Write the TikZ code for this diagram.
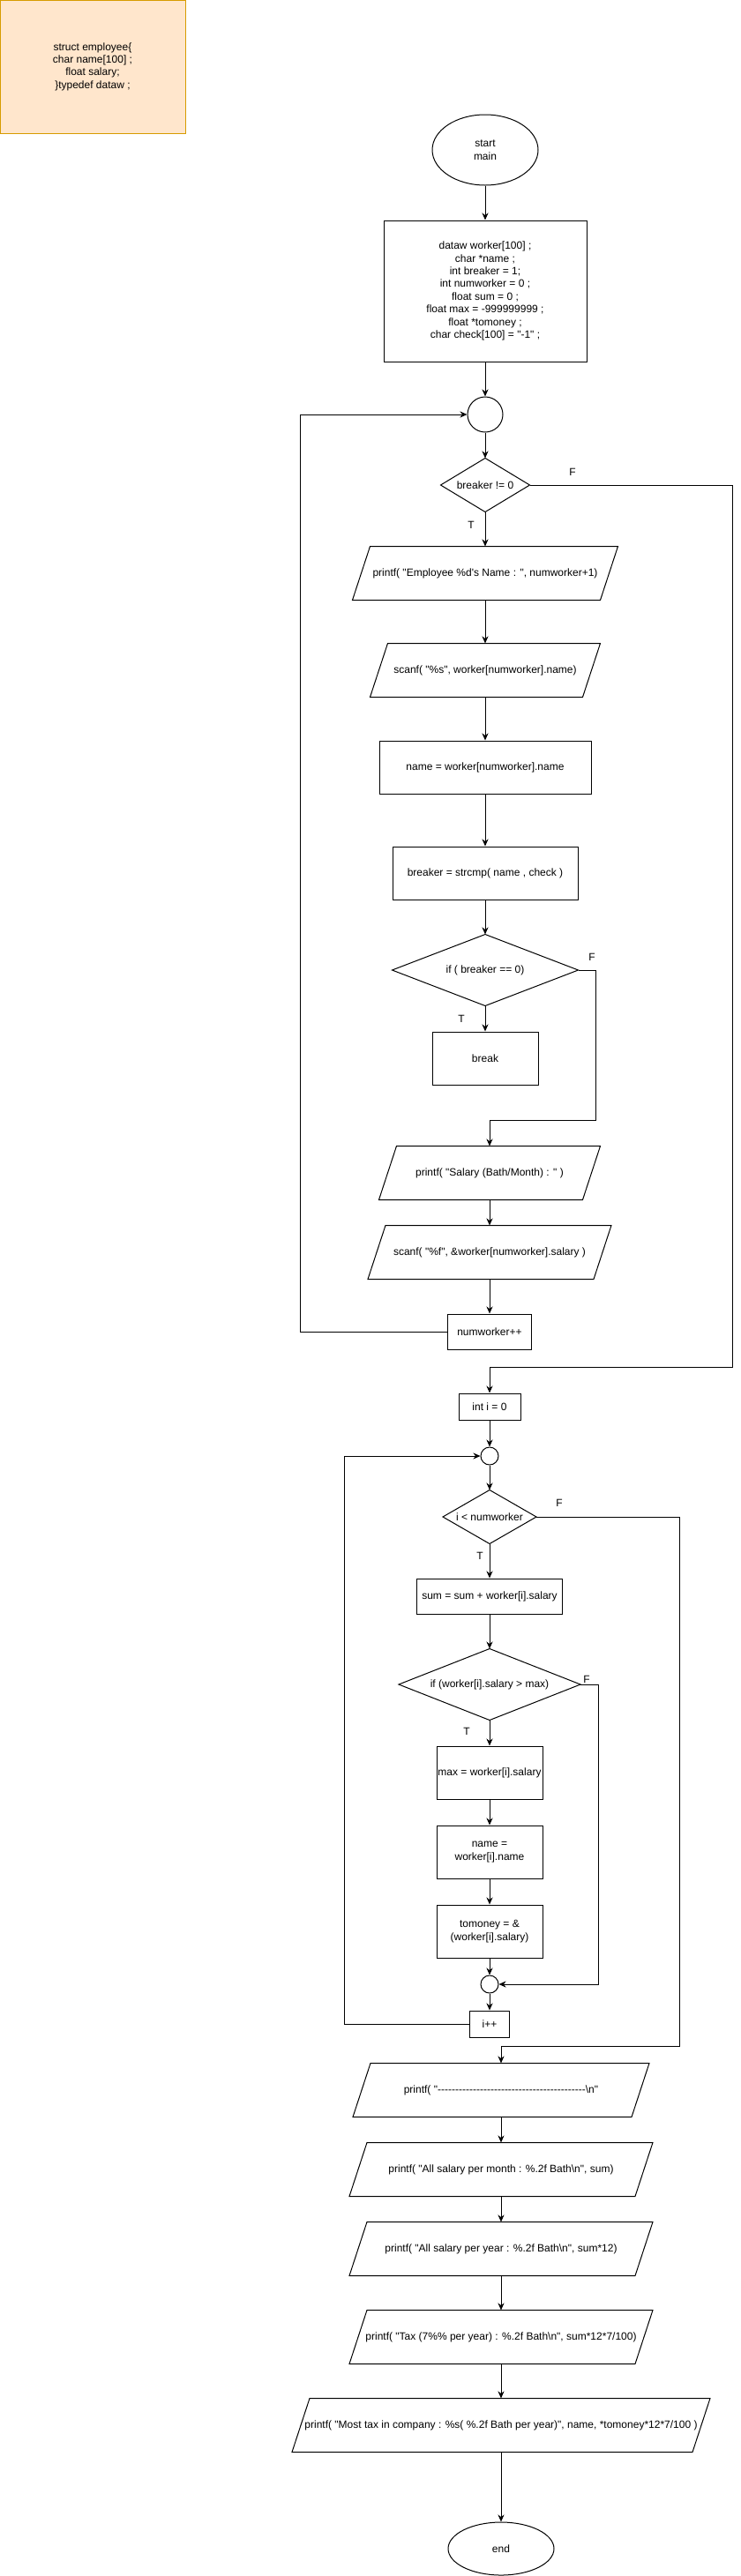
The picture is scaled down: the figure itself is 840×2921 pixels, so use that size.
\documentclass[tikz,border=0pt]{standalone}
\usepackage{fontspec}
\setmainfont{Liberation Sans}[Ligatures=TeXOff]
\usetikzlibrary{shapes.geometric,arrows.meta,calc}
\definecolor{notefill}{HTML}{FFE6CC}
\definecolor{noteline}{HTML}{D79B00}
\tikzset{
  base/.style={font=\fontsize{12}{14.4}\selectfont, inner sep=0pt, align=center, line width=1pt},
  proc/.style={base, draw, rectangle},
  iobox/.style={base, rectangle},
  decbox/.style={base, rectangle},
  conn/.style={base, draw, circle},
  term/.style={base, draw, ellipse},
  note/.style={base, draw=noteline, fill=notefill, rectangle},
  arr/.style={line width=1pt, -{Stealth[length=8pt,width=7pt,inset=2.5pt]}},
  lbl/.style={font=\fontsize{12}{14.4}\selectfont, inner sep=0pt},
}
\newcommand\iopara[1]{\draw[line width=1pt] ([xshift=20pt]#1.north west) -- (#1.north east) -- ([xshift=-20pt]#1.south east) -- (#1.south west) -- cycle;}
\newcommand\decdia[1]{\draw[line width=1pt] (#1.north) -- (#1.east) -- (#1.south) -- (#1.west) -- cycle;}
\begin{document}
\begin{tikzpicture}[x=1pt,y=-1pt]
\useasboundingbox (0,0) rectangle (840,2921);
\fill[white] (0,0) rectangle (840,2921);

\node[note, minimum width=210pt, minimum height=151pt] (st) at (105,75.5) {struct employee\{\\char name[100] ;\\float salary;\\\}typedef dataw ;};

\node[term, minimum width=120pt, minimum height=80pt] (start) at (550,170) {start\\main};
\node[proc, minimum width=230pt, minimum height=160pt] (init) at (550,330) {dataw worker[100] ;\\char *name ;\\int breaker = 1;\\int numworker = 0 ;\\float sum = 0 ;\\float max = -999999999 ;\\float *tomoney ;\\char check[100] = "-1" ;};
\node[conn, minimum size=40pt] (c1) at (550,470) {};
\node[decbox, minimum width=100pt, minimum height=60pt] (d1) at (550,550) {breaker != 0}; \decdia{d1}
\node[iobox, minimum width=300pt, minimum height=60pt] (p1) at (550,650) {printf( "Employee \%d's Name : ", numworker+1)}; \iopara{p1}
\node[iobox, minimum width=260pt, minimum height=60pt] (p2) at (550,760) {scanf( "\%s", worker[numworker].name)}; \iopara{p2}
\node[proc, minimum width=240pt, minimum height=60pt] (r1) at (550,870) {name = worker[numworker].name};
\node[proc, minimum width=210pt, minimum height=60pt] (r2) at (550,990) {breaker = strcmp( name , check )};
\node[decbox, minimum width=210pt, minimum height=80pt] (d2) at (550,1100) {if ( breaker == 0)}; \decdia{d2}
\node[proc, minimum width=120pt, minimum height=60pt] (brk) at (550,1200) {break};
\node[iobox, minimum width=250pt, minimum height=60pt] (p3) at (555,1330) {printf( "Salary (Bath/Month) : " )}; \iopara{p3}
\node[iobox, minimum width=275pt, minimum height=60pt] (p4) at (555,1420) {scanf( "\%f", \&worker[numworker].salary )}; \iopara{p4}
\node[proc, minimum width=95pt, minimum height=40pt] (nw) at (555,1510) {numworker++};

\node[proc, minimum width=70pt, minimum height=30pt] (ii) at (555,1595) {int i = 0};
\node[conn, minimum size=20pt] (c2) at (555,1651) {};
\node[decbox, minimum width=105pt, minimum height=60pt] (d3) at (555,1720) {i < numworker}; \decdia{d3}
\node[proc, minimum width=165pt, minimum height=40pt] (sum) at (555,1810) {sum = sum + worker[i].salary};
\node[decbox, minimum width=205pt, minimum height=80pt] (d4) at (555,1910) {if (worker[i].salary > max)}; \decdia{d4}
\node[proc, minimum width=120pt, minimum height=60pt] (mx) at (555,2010) {max = worker[i].salary};
\node[proc, minimum width=120pt, minimum height=60pt] (nm) at (555,2100) {name =\\worker[i].name};
\node[proc, minimum width=120pt, minimum height=60pt] (tm) at (555,2190) {tomoney = \&\\(worker[i].salary)};
\node[conn, minimum size=20pt] (c3) at (555,2250) {};
\node[proc, minimum width=45pt, minimum height=30pt] (ipp) at (555,2295) {i++};

\node[iobox, minimum width=335pt, minimum height=60pt] (pd) at (568,2370) {printf( "------------------------------------------\textbackslash n"}; \iopara{pd}
\node[iobox, minimum width=343pt, minimum height=60pt] (pm) at (568,2460) {printf( "All salary per month : \%.2f Bath\textbackslash n", sum)}; \iopara{pm}
\node[iobox, minimum width=343pt, minimum height=60pt] (py) at (568,2550) {printf( "All salary per year : \%.2f Bath\textbackslash n", sum*12)}; \iopara{py}
\node[iobox, minimum width=343pt, minimum height=60pt] (ptax) at (568,2650) {printf( "Tax (7\%\% per year) : \%.2f Bath\textbackslash n", sum*12*7/100)}; \iopara{ptax}
\node[iobox, minimum width=473pt, minimum height=60pt] (pmost) at (568,2750) {printf( "Most tax in company : \%s( \%.2f Bath per year)", name, *tomoney*12*7/100 )}; \iopara{pmost}
\node[term, minimum width=120pt, minimum height=60pt] (fin) at (568,2890) {end};

% labels
\node[lbl] (lF1) at (649,535) {F};
\node[lbl] (lT1) at (534,595) {T};
\node[lbl] (lF2) at (671,1085) {F};
\node[lbl] (lT2) at (523,1155) {T};
\node[lbl] (lF3) at (634,1704) {F};
\node[lbl] (lT3) at (544,1764) {T};
\node[lbl] (lF4) at (665,1904) {F};
\node[lbl] (lT4) at (529,1963) {T};

% junction coordinates
\coordinate (j1) at (675,1270);
\coordinate (k1) at (340,1510);
\coordinate (k2) at (830,1550);
\coordinate (k3) at (678,2250);
\coordinate (k4) at (390,2295);
\coordinate (k5) at (770,2320);

% connectors
\draw[arr] (start.south) -- (init.north);
\draw[arr] (init.south) -- (c1.north);
\draw[arr] (c1.south) -- (d1.north);
\draw[arr] (d1.south) -- (p1.north);
\draw[arr] (p1.south) -- (p2.north);
\draw[arr] (p2.south) -- (r1.north);
\draw[arr] (r1.south) -- (r2.north);
\draw[arr] (r2.south) -- (d2.north);
\draw[arr] (d2.south) -- (brk.north);
\draw[arr] (d2.east) -| (j1) -| (p3.north);
\draw[arr] (p3.south) -- (p4.north);
\draw[arr] (p4.south) -- (nw.north);
\draw[arr] (nw.west) -- (k1) |- (c1.west);
\draw[arr] (d1.east) -| (k2) -| (ii.north);
\draw[arr] (ii.south) -- (c2.north);
\draw[arr] (c2.south) -- (d3.north);
\draw[arr] (d3.south) -- (sum.north);
\draw[arr] (sum.south) -- (d4.north);
\draw[arr] (d4.south) -- (mx.north);
\draw[arr] (mx.south) -- (nm.north);
\draw[arr] (nm.south) -- (tm.north);
\draw[arr] (tm.south) -- (c3.north);
\draw[arr] (d4.east) -| (k3) -- (c3.east);
\draw[arr] (c3.south) -- (ipp.north);
\draw[arr] (ipp.west) -- (k4) |- (c2.west);
\draw[arr] (d3.east) -| (k5) -| (pd.north);
\draw[arr] (pd.south) -- (pm.north);
\draw[arr] (pm.south) -- (py.north);
\draw[arr] (py.south) -- (ptax.north);
\draw[arr] (ptax.south) -- (pmost.north);
\draw[arr] (pmost.south) -- (fin.north);
\end{tikzpicture}
\end{document}
